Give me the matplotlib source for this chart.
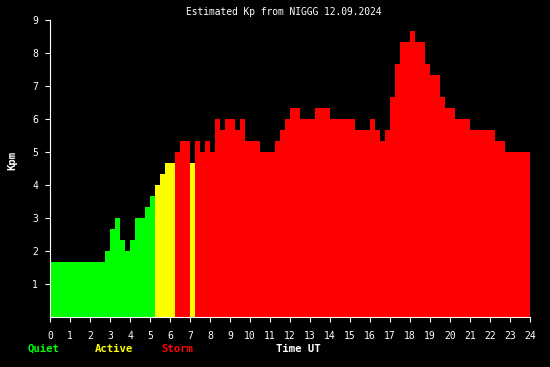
import matplotlib
matplotlib.use('Agg')
import matplotlib.pyplot as plt
import numpy as np

# Kp estimate per 15 minutes, in thirds (5 -> 1.67, 6 -> 2.0, 7 -> 2.33 ...)
kp_thirds = [
    5, 5, 5, 5,      # 00
    5, 5, 5, 5,      # 01
    5, 5, 5, 6,      # 02
    8, 9, 7, 6,      # 03
    7, 9, 9, 10,     # 04
    11, 12, 13, 14,  # 05
    14, 15, 16, 16,  # 06
    14, 16, 15, 16,  # 07
    15, 18, 17, 18,  # 08
    18, 17, 18, 16,  # 09
    16, 16, 15, 15,  # 10
    15, 16, 17, 18,  # 11
    19, 19, 18, 18,  # 12
    18, 19, 19, 19,  # 13
    18, 18, 18, 18,  # 14
    18, 17, 17, 17,  # 15
    18, 17, 16, 17,  # 16
    20, 23, 25, 25,  # 17
    26, 25, 25, 23,  # 18
    22, 22, 20, 19,  # 19
    19, 18, 18, 18,  # 20
    17, 17, 17, 17,  # 21
    17, 16, 16, 15,  # 22
    15, 15, 15, 15,  # 23
]
kp = np.array(kp_thirds) / 3.0
times = np.arange(len(kp)) * 0.25

title = 'Estimated Kp from NIGGG 12.09.2024'

colors = []
for v in kp:
    if v >= 5:
        colors.append('#ff0000')
    elif v >= 4:
        colors.append('#ffff00')
    else:
        colors.append('#00ff00')

W, H = 550, 367
fig = plt.figure(figsize=(W / 100, H / 100), dpi=100, facecolor='black')
ax = fig.add_axes([50 / W, 50 / H, 480 / W, 297 / H], facecolor='black')

ax.bar(times, kp, width=0.25, align='edge', color=colors, linewidth=0)

ax.set_xlim(0, 24)
ax.set_ylim(0, 9)

mono = 'DejaVu Sans Mono'
ax.set_xticks(range(25))
ax.set_xticks(np.arange(0, 24.01, 0.25), minor=True)
ax.set_yticks(range(1, 10))
ax.set_yticks([i / 3 for i in range(1, 28) if i % 3], minor=True)
ax.tick_params(colors='white', width=0.8, labelsize=7)
ax.tick_params(axis='x', which='major', length=3.6, pad=6.5)
ax.tick_params(axis='x', which='minor', length=1.8)
ax.tick_params(axis='y', which='major', length=3.6, pad=5)
ax.tick_params(axis='y', which='minor', length=2.2)
for lab in ax.get_xticklabels() + ax.get_yticklabels():
    lab.set_family(mono)

for s in ['top', 'right']:
    ax.spines[s].set_visible(False)
for s in ['left', 'bottom']:
    ax.spines[s].set_color('white')
    ax.spines[s].set_linewidth(0.8)

fig.text(284 / W, 1 - 12 / H, title, color='white', family=mono,
         fontsize=6.9, ha='center', va='center')
fig.text(12 / W, 1 - 160 / H, 'Kpm', color='white', family=mono,
         fontsize=7.7, fontweight='bold', rotation=90, ha='center', va='center')

legend_items = [('Quiet', '#00ff00', 28), ('Active', '#ffff00', 95),
                ('Storm', '#ff0000', 161), ('Time UT', 'white', 276)]
for txt, col, x in legend_items:
    fig.text(x / W, 1 - 349 / H, txt, color=col, family=mono,
             fontsize=7.7, fontweight='bold', ha='left', va='center')

fig.savefig('out.png', dpi=100, facecolor='black')
